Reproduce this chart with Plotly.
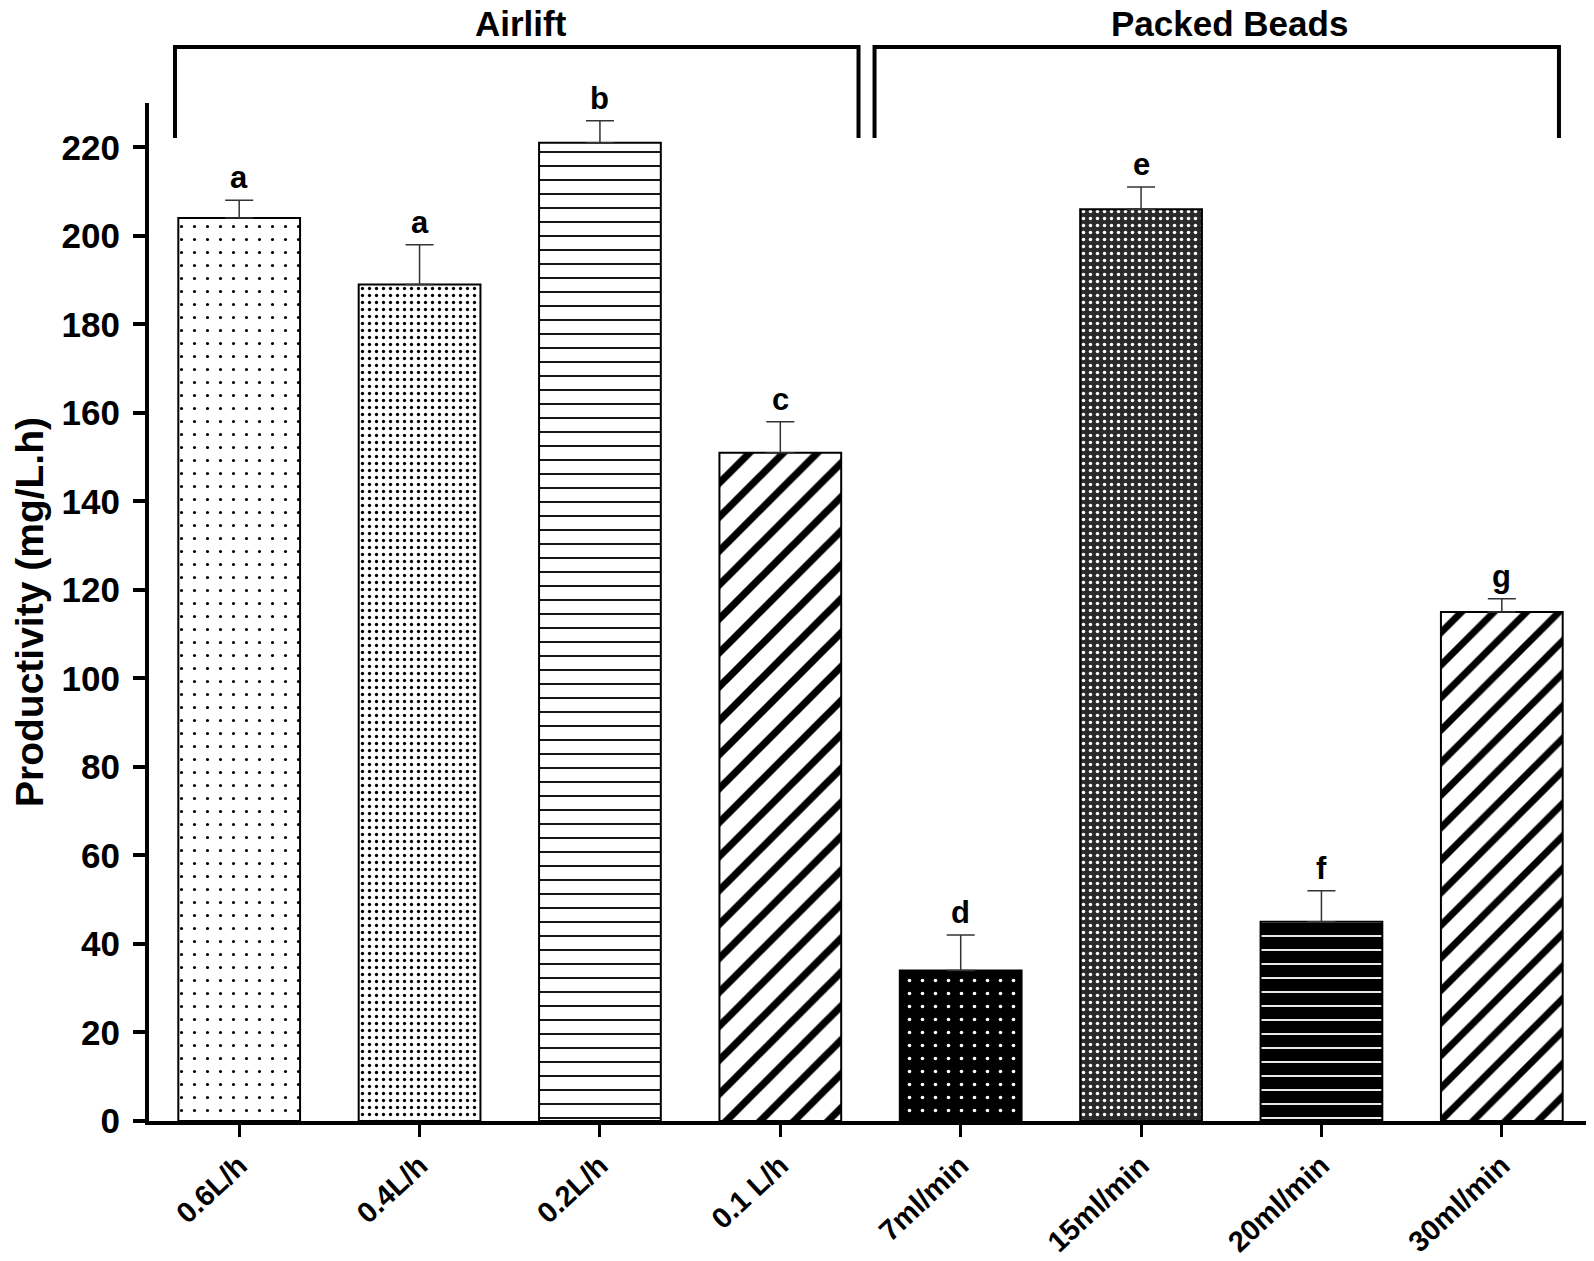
import plotly.graph_objects as go

categories = ["0.6L/h", "0.4L/h", "0.2L/h", "0.1 L/h", "7ml/min", "15ml/min", "20ml/min", "30ml/min"]
values = [204, 189, 221, 151, 34, 206, 45, 115]
errors = [4, 9, 5, 7, 8, 5, 7, 3]
letters = ["a", "a", "b", "c", "d", "e", "f", "g"]
groups = ["Airlift", "Packed Beads"]
y_ticks = [0, 20, 40, 60, 80, 100, 120, 140, 160, 180, 200, 220]

pat_shape = [".", ".", "-", "/", ".", ".", "-", "/"]
pat_fg = ["black", "black", "black", "black", "white", "white", "white", "black"]
pat_bg = ["white", "white", "white", "white", "black", "#2a2a2a", "black", "white"]
pat_size = [13, 7, 14, 24, 13, 7, 14, 23]
pat_sol = [0.045, 0.17, 0.13, 0.3, 0.06, 0.2, 0.13, 0.3]

FONT = "Arial, Liberation Sans, sans-serif"

fig = go.Figure()
fig.add_trace(go.Bar(
    x=list(range(len(categories))),
    y=values,
    width=0.675,
    marker=dict(
        color="white",
        line=dict(color="black", width=2),
        pattern=dict(shape=pat_shape, fgcolor=pat_fg, bgcolor=pat_bg,
                     size=pat_size, solidity=pat_sol, fillmode="replace"),
    ),
    error_y=dict(type="data", symmetric=False, array=errors,
                 arrayminus=[0] * len(errors), color="#333333",
                 thickness=1.5, width=14),
    showlegend=False,
))

for i, (v, e, t) in enumerate(zip(values, errors, letters)):
    fig.add_annotation(x=i, y=v + e, text=t, showarrow=False, yanchor="bottom",
                       yshift=3, font=dict(family=FONT, size=31, color="black", weight="bold"))

# group brackets (paper coordinates)
brackets = [(0.018, 0.4917), (0.5028, 0.9771)]
label_x = [0.258, 0.749]
y_top, y_bot = 1.055, 0.9656
for (x0, x1), lx, name in zip(brackets, label_x, groups):
    fig.add_shape(type="path", xref="paper", yref="paper",
                  path=f"M {x0},{y_bot} L {x0},{y_top} L {x1},{y_top} L {x1},{y_bot}",
                  line=dict(color="black", width=4))
    fig.add_annotation(xref="paper", yref="paper", x=lx, y=1.0566,
                       text=name, showarrow=False, xanchor="center", yanchor="bottom",
                       font=dict(family=FONT, size=35, color="black", weight="bold"))

fig.update_layout(
    width=1586, height=1253,
    margin=dict(l=141, r=2, t=95, b=140),
    plot_bgcolor="white", paper_bgcolor="white",
    font=dict(family=FONT, color="black"),
)
fig.update_xaxes(
    range=[-0.5, 7.5], tickmode="array", tickvals=list(range(len(categories))),
    ticktext=categories, tickangle=-43, showgrid=False, zeroline=False,
    showline=True, linecolor="black", linewidth=4, ticks="outside",
    ticklen=12, tickwidth=3, tickcolor="black", automargin=False,
    tickfont=dict(family=FONT, size=29, color="black", weight="bold"),
)
fig.update_yaxes(
    range=[0, 230], tickmode="array", tickvals=y_ticks, showgrid=False,
    zeroline=False, showline=True, linecolor="black", linewidth=4,
    ticks="outside", ticklen=12, tickwidth=4, tickcolor="black",
    automargin=False, ticklabelstandoff=6,
    tickfont=dict(family=FONT, size=35, color="black", weight="bold"),
    title=dict(text="Productivity (mg/L.h)", standoff=8,
               font=dict(family=FONT, size=39, color="black", weight="bold")),
)

fig.write_html("out.html")
